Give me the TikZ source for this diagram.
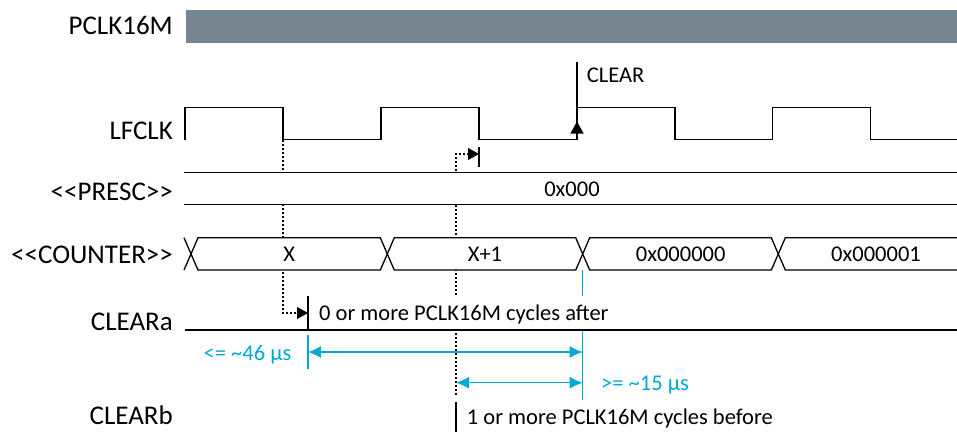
\documentclass[tikz,border=0pt]{standalone}
\usepackage{fontspec}
\setmainfont{Carlito}
\usepackage{tikz}
\usetikzlibrary{arrows.meta,calc}
\definecolor{pclkgray}{HTML}{76858F}
\definecolor{timecyan}{HTML}{00A9D4}
\newcommand\sigsize{\fontsize{27}{32}\selectfont}
\newcommand\notesz{\fontsize{22.5}{27}\selectfont}
\tikzset{
  signame/.style={anchor=base east, inner sep=0pt, font=\sigsize},
  note/.style={anchor=base, inner sep=0pt, font=\notesz},
  wave/.style={line width=1.3pt, line join=miter},
  dotline/.style={line width=1.1pt, dash pattern=on 2pt off 2pt},
  cyanline/.style={draw=timecyan, line width=1.3pt},
  measure/.style={cyanline, {Latex[length=13pt,width=12pt]}-{Latex[length=13pt,width=12pt]}},
  masked/.style={fill=white, inner xsep=11pt, text height=17pt, text depth=3pt, font=\notesz}
}

\begin{document}
\begin{tikzpicture}[x=1pt, y=-1pt]
  \useasboundingbox (0,0) rectangle (957,432);

  % signal names
  \node[signame] (lpclk) at (173,34) {PCLK16M};
  \node[signame] (llf) at (173,139) {LFCLK};
  \node[signame] (lpresc) at (173,200) {<\kern0pt<PRESC>\kern0pt>};
  \node[signame] (lcnt) at (173,263) {<\kern0pt<COUNTER>\kern0pt>};
  \node[signame] (lclra) at (173,330) {CLEARa};
  \node[signame] (lclrb) at (173,424) {CLEARb};

  % PCLK16M
  \fill[pclkgray] (185.7,10) rectangle (957,42.7);

  % instants
  \coordinate (fa) at (283,139.5);
  \coordinate (fb) at (479,154);
  \coordinate (dq) at (456,395);
  \coordinate (rc) at (577,139.5);
  \coordinate (clrtop) at (577,61.7);
  \coordinate (cz) at (582.7,270);
  \coordinate (cze) at (582.7,400);

  % helper lines, masked below
  \draw[dotline, -{Triangle[length=11pt,width=12pt]}] (dq) |- (fb);
  \draw[cyanline] (cz) -- (cze);

  \node[masked, anchor=base west, inner ysep=7pt] (after) at (308,320) {0 or more PCLK16M cycles after};
  \draw[wave] (after.north west) -- (after.south west);
  \node[masked, anchor=base west, inner xsep=10.7pt, inner ysep=5pt] (before) at (456,424) {1 or more PCLK16M cycles before};
  \draw[wave] (before.north west) -- (before.south west);

  \draw[dotline, -{Triangle[length=11pt,width=12pt]}] (fa) |- (after.west);

  % LFCLK
  \draw[wave] (185,139.5) -- (185,107.7) -- (283,107.7) -- (fa) -- (381,139.5) -- (381,107.7)
    -- (479,107.7) -- (479,139.5) -- (rc) -- (577,107.7) -- (675,107.7) -- (675,139.5)
    -- (772.3,139.5) -- (772.3,107.7) -- (870.3,107.7) -- (870.3,139.5) -- (957,139.5);
  \draw[wave] (479,146.7) -- (479,166.7);
  \draw[wave] (rc) -- (clrtop);
  \draw[wave, -{Triangle[length=12pt,width=13pt]}] (rc) -- ++(0,-18);
  \node[note, anchor=base west] (clr) at (586.7,82.3) {CLEAR};

  % PRESC
  \fill[white] (184.3,172.7) rectangle (957,204.3);
  \draw[wave] (184.3,172.7) -- (957,172.7) (184.3,204.3) -- (957,204.3);
  \node[note] (presc) at (572,196.5) {0x000};

  % COUNTER
  \draw[wave] (184,237.7) -- (191,254) -- (184,270);
  \draw[wave, fill=white] (191,254) -- (198,237.7) -- (380.3,237.7) -- (387.3,254) -- (380.3,270) -- (198,270) -- cycle;
  \draw[wave, fill=white] (387.3,254) -- (394.3,237.7) -- (575.7,237.7) -- (582.7,254) -- (575.7,270) -- (394.3,270) -- cycle;
  \draw[wave, fill=white] (582.7,254) -- (589.7,237.7) -- (771.3,237.7) -- (778.3,254) -- (771.3,270) -- (589.7,270) -- cycle;
  \fill[white] (778.3,254) -- (785.3,237.7) -- (957,237.7) -- (957,270) -- (785.3,270) -- cycle;
  \draw[wave] (957,237.7) -- (785.3,237.7) -- (778.3,254) -- (785.3,270) -- (957,270);
  \node[note] (cx) at (289.3,261.7) {X};
  \node[note] (cx1) at (485,261.7) {X+1};
  \node[note] (c0) at (680.7,261.7) {0x000000};
  \node[note] (c1) at (876,261.7) {0x000001};

  % CLEARa
  \draw[wave] (185,330) -- (957,330);

  % timing
  \coordinate (m46a) at (308,352);
  \coordinate (m46b) at (582.7,352);
  \coordinate (m15a) at (456,382.7);
  \coordinate (m15b) at (582.7,382.7);
  \draw[cyanline] (308,335) -- (308,369);
  \draw[measure] (m46a) -- (m46b);
  \draw[measure] (m15a) -- (m15b);
  \node[note, anchor=base east, text=timecyan] (t46) at (291.7,360) {<= \textasciitilde46 µs};
  \node[note, anchor=base west, text=timecyan] (t15) at (601,390) {>= \textasciitilde15 µs};
\end{tikzpicture}
\end{document}
